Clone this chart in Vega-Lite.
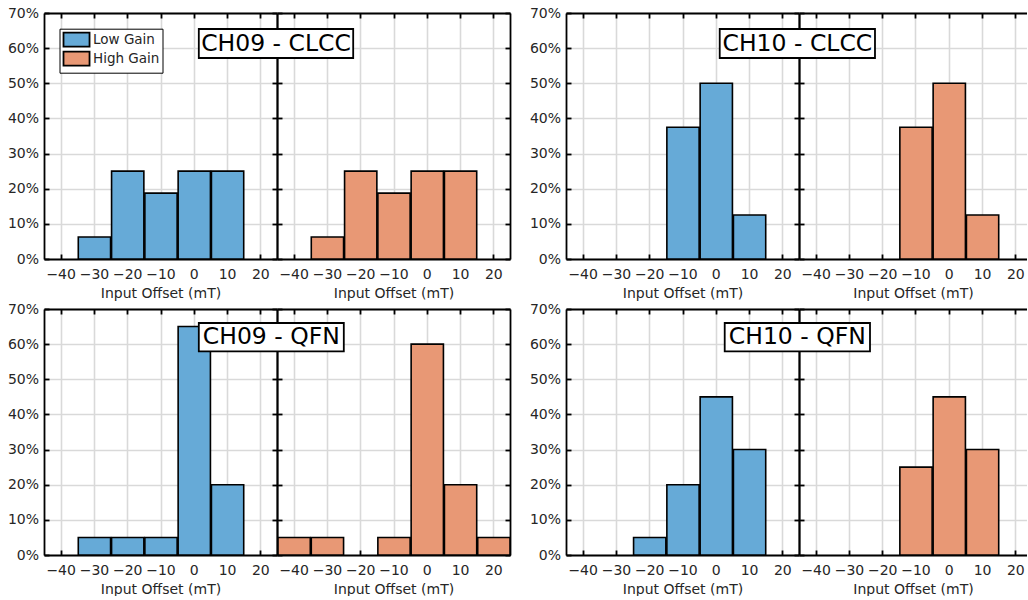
{
  "$schema": "https://vega.github.io/schema/vega-lite/v6.json",
  "background": "white",
  "padding": {"left": 7, "top": 6, "right": 0, "bottom": 0},
  "spacing": 2,
  "datasets": {
    "bins": [
      {"chip": "CH09 - CLCC", "gain": "Low Gain", "lo": -35, "hi": -25, "share": 0.0625},
      {"chip": "CH09 - CLCC", "gain": "Low Gain", "lo": -25, "hi": -15, "share": 0.25},
      {"chip": "CH09 - CLCC", "gain": "Low Gain", "lo": -15, "hi": -5, "share": 0.1875},
      {"chip": "CH09 - CLCC", "gain": "Low Gain", "lo": -5, "hi": 5, "share": 0.25},
      {"chip": "CH09 - CLCC", "gain": "Low Gain", "lo": 5, "hi": 15, "share": 0.25},
      {"chip": "CH09 - CLCC", "gain": "High Gain", "lo": -35, "hi": -25, "share": 0.0625},
      {"chip": "CH09 - CLCC", "gain": "High Gain", "lo": -25, "hi": -15, "share": 0.25},
      {"chip": "CH09 - CLCC", "gain": "High Gain", "lo": -15, "hi": -5, "share": 0.1875},
      {"chip": "CH09 - CLCC", "gain": "High Gain", "lo": -5, "hi": 5, "share": 0.25},
      {"chip": "CH09 - CLCC", "gain": "High Gain", "lo": 5, "hi": 15, "share": 0.25},
      {"chip": "CH10 - CLCC", "gain": "Low Gain", "lo": -15, "hi": -5, "share": 0.375},
      {"chip": "CH10 - CLCC", "gain": "Low Gain", "lo": -5, "hi": 5, "share": 0.5},
      {"chip": "CH10 - CLCC", "gain": "Low Gain", "lo": 5, "hi": 15, "share": 0.125},
      {"chip": "CH10 - CLCC", "gain": "High Gain", "lo": -15, "hi": -5, "share": 0.375},
      {"chip": "CH10 - CLCC", "gain": "High Gain", "lo": -5, "hi": 5, "share": 0.5},
      {"chip": "CH10 - CLCC", "gain": "High Gain", "lo": 5, "hi": 15, "share": 0.125},
      {"chip": "CH09 - QFN", "gain": "Low Gain", "lo": -35, "hi": -25, "share": 0.05},
      {"chip": "CH09 - QFN", "gain": "Low Gain", "lo": -25, "hi": -15, "share": 0.05},
      {"chip": "CH09 - QFN", "gain": "Low Gain", "lo": -15, "hi": -5, "share": 0.05},
      {"chip": "CH09 - QFN", "gain": "Low Gain", "lo": -5, "hi": 5, "share": 0.65},
      {"chip": "CH09 - QFN", "gain": "Low Gain", "lo": 5, "hi": 15, "share": 0.2},
      {"chip": "CH09 - QFN", "gain": "High Gain", "lo": -45, "hi": -35, "share": 0.05},
      {"chip": "CH09 - QFN", "gain": "High Gain", "lo": -35, "hi": -25, "share": 0.05},
      {"chip": "CH09 - QFN", "gain": "High Gain", "lo": -15, "hi": -5, "share": 0.05},
      {"chip": "CH09 - QFN", "gain": "High Gain", "lo": -5, "hi": 5, "share": 0.6},
      {"chip": "CH09 - QFN", "gain": "High Gain", "lo": 5, "hi": 15, "share": 0.2},
      {"chip": "CH09 - QFN", "gain": "High Gain", "lo": 15, "hi": 25, "share": 0.05},
      {"chip": "CH10 - QFN", "gain": "Low Gain", "lo": -25, "hi": -15, "share": 0.05},
      {"chip": "CH10 - QFN", "gain": "Low Gain", "lo": -15, "hi": -5, "share": 0.2},
      {"chip": "CH10 - QFN", "gain": "Low Gain", "lo": -5, "hi": 5, "share": 0.45},
      {"chip": "CH10 - QFN", "gain": "Low Gain", "lo": 5, "hi": 15, "share": 0.3},
      {"chip": "CH10 - QFN", "gain": "High Gain", "lo": -15, "hi": -5, "share": 0.25},
      {"chip": "CH10 - QFN", "gain": "High Gain", "lo": -5, "hi": 5, "share": 0.45},
      {"chip": "CH10 - QFN", "gain": "High Gain", "lo": 5, "hi": 15, "share": 0.3}
    ]
  },
  "vconcat": [
    {
      "hconcat": [
        {
          "hconcat": [
            {
              "width": 233, "height": 246,
              "data": {"name": "bins"},
              "transform": [{"filter": "datum.chip === 'CH09 - CLCC' && datum.gain === 'Low Gain'"}],
              "layer": [
                {"mark": {"type": "bar", "stroke": "black", "strokeWidth": 1.6},
                 "encoding": {
                   "x": {"field": "lo", "type": "quantitative", "bin": "binned", "scale": {"domain": [-45, 25], "nice": false, "zero": false}, "axis": {"orient": "bottom", "title": "Input Offset (mT)", "grid": true}},
                   "x2": {"field": "hi"},
                   "y": {"field": "share", "type": "quantitative", "scale": {"domain": [0, 0.7], "nice": false}, "axis": {"orient": "left", "title": null}},
                   "color": {"field": "gain", "type": "nominal", "scale": {"domain": ["Low Gain", "High Gain"], "range": ["#66AAD7", "#E89875"]},
                     "legend": {"orient": "none", "legendX": 15.5, "legendY": 15.7, "title": null, "symbolType": "M-1,-1H2.72V1H-1Z", "symbolSize": 196, "symbolStrokeColor": "black", "symbolStrokeWidth": 1.8, "symbolOpacity": 1, "labelFontSize": 13.5, "labelColor": "#262626", "labelOffset": 14.5, "strokeColor": "black", "fillColor": "white", "padding": 3, "rowPadding": -4.5}}
                 }},
                {"mark": {"type": "bar", "opacity": 0},
                 "encoding": {
                   "x": {"field": "lo", "type": "quantitative", "bin": "binned", "scale": {"domain": [-45, 25], "nice": false, "zero": false}, "axis": {"orient": "top", "labels": false, "grid": false, "title": null}},
                   "x2": {"field": "hi"},
                   "y": {"field": "share", "type": "quantitative", "scale": {"domain": [0, 0.7], "nice": false}, "axis": {"orient": "right", "labels": false, "grid": false, "title": null}}
                 }}
              ],
              "resolve": {"axis": {"x": "independent", "y": "independent"}}
            },
            {
              "width": 233, "height": 246,
              "layer": [
                {"data": {"name": "bins"},
                 "transform": [{"filter": "datum.chip === 'CH09 - CLCC' && datum.gain === 'High Gain'"}],
                 "mark": {"type": "bar", "stroke": "black", "strokeWidth": 1.6},
                 "encoding": {
                   "x": {"field": "lo", "type": "quantitative", "bin": "binned", "scale": {"domain": [-45, 25], "nice": false, "zero": false}, "axis": {"orient": "bottom", "title": "Input Offset (mT)", "grid": true}},
                   "x2": {"field": "hi"},
                   "y": {"field": "share", "type": "quantitative", "scale": {"domain": [0, 0.7], "nice": false}, "axis": {"orient": "left", "title": null, "labels": false}},
                   "color": {"field": "gain", "type": "nominal", "scale": {"domain": ["Low Gain", "High Gain"], "range": ["#66AAD7", "#E89875"]}}
                 }},
                {"data": {"name": "bins"},
                 "transform": [{"filter": "datum.chip === 'CH09 - CLCC' && datum.gain === 'High Gain'"}],
                 "mark": {"type": "bar", "opacity": 0},
                 "encoding": {
                   "x": {"field": "lo", "type": "quantitative", "bin": "binned", "scale": {"domain": [-45, 25], "nice": false, "zero": false}, "axis": {"orient": "top", "labels": false, "grid": false, "title": null}},
                   "x2": {"field": "hi"},
                   "y": {"field": "share", "type": "quantitative", "scale": {"domain": [0, 0.7], "nice": false}, "axis": {"orient": "right", "labels": false, "grid": false, "title": null}}
                 }},
                {"data": {"values": [{"label": "CH09 - CLCC"}]},
                 "layer": [
                   {"mark": {"type": "rect", "fill": "white", "stroke": "black", "strokeWidth": 1.8},
                    "encoding": {
                      "x": {"datum": -68.49, "type": "quantitative", "scale": {"domain": [-45, 25], "nice": false, "zero": false}, "axis": null},
                      "x2": {"datum": -22.11},
                      "y": {"datum": 0.6545, "type": "quantitative", "scale": {"domain": [0, 0.7], "nice": false}, "axis": null},
                      "y2": {"datum": 0.572}
                    }},
                   {"mark": {"type": "text", "fontSize": 23.5, "color": "black", "align": "center", "baseline": "middle"},
                    "encoding": {
                      "x": {"datum": -45.3, "type": "quantitative", "scale": {"domain": [-45, 25], "nice": false, "zero": false}, "axis": null},
                      "y": {"datum": 0.6132, "type": "quantitative", "scale": {"domain": [0, 0.7], "nice": false}, "axis": null},
                      "text": {"field": "label"}
                    }}
                 ]}
              ],
              "resolve": {"axis": {"x": "independent", "y": "independent"}}
            }
          ],
          "spacing": 0,
          "bounds": "flush"
        },
        {
          "hconcat": [
            {
              "width": 233, "height": 246,
              "data": {"name": "bins"},
              "transform": [{"filter": "datum.chip === 'CH10 - CLCC' && datum.gain === 'Low Gain'"}],
              "layer": [
                {"mark": {"type": "bar", "stroke": "black", "strokeWidth": 1.6},
                 "encoding": {
                   "x": {"field": "lo", "type": "quantitative", "bin": "binned", "scale": {"domain": [-45, 25], "nice": false, "zero": false}, "axis": {"orient": "bottom", "title": "Input Offset (mT)", "grid": true}},
                   "x2": {"field": "hi"},
                   "y": {"field": "share", "type": "quantitative", "scale": {"domain": [0, 0.7], "nice": false}, "axis": {"orient": "left", "title": null}},
                   "color": {"field": "gain", "type": "nominal", "scale": {"domain": ["Low Gain", "High Gain"], "range": ["#66AAD7", "#E89875"]}}
                 }},
                {"mark": {"type": "bar", "opacity": 0},
                 "encoding": {
                   "x": {"field": "lo", "type": "quantitative", "bin": "binned", "scale": {"domain": [-45, 25], "nice": false, "zero": false}, "axis": {"orient": "top", "labels": false, "grid": false, "title": null}},
                   "x2": {"field": "hi"},
                   "y": {"field": "share", "type": "quantitative", "scale": {"domain": [0, 0.7], "nice": false}, "axis": {"orient": "right", "labels": false, "grid": false, "title": null}}
                 }}
              ],
              "resolve": {"axis": {"x": "independent", "y": "independent"}}
            },
            {
              "width": 228, "height": 246,
              "layer": [
                {"data": {"name": "bins"},
                 "transform": [{"filter": "datum.chip === 'CH10 - CLCC' && datum.gain === 'High Gain'"}],
                 "mark": {"type": "bar", "stroke": "black", "strokeWidth": 1.6},
                 "encoding": {
                   "x": {"field": "lo", "type": "quantitative", "bin": "binned", "scale": {"domain": [-45, 23.5], "nice": false, "zero": false}, "axis": {"orient": "bottom", "title": "Input Offset (mT)", "grid": true}},
                   "x2": {"field": "hi"},
                   "y": {"field": "share", "type": "quantitative", "scale": {"domain": [0, 0.7], "nice": false}, "axis": {"orient": "left", "title": null, "labels": false}},
                   "color": {"field": "gain", "type": "nominal", "scale": {"domain": ["Low Gain", "High Gain"], "range": ["#66AAD7", "#E89875"]}}
                 }},
                {"data": {"name": "bins"},
                 "transform": [{"filter": "datum.chip === 'CH10 - CLCC' && datum.gain === 'High Gain'"}],
                 "mark": {"type": "bar", "opacity": 0},
                 "encoding": {
                   "x": {"field": "lo", "type": "quantitative", "bin": "binned", "scale": {"domain": [-45, 23.5], "nice": false, "zero": false}, "axis": {"orient": "top", "labels": false, "grid": false, "title": null}},
                   "x2": {"field": "hi"},
                   "y": {"field": "share", "type": "quantitative", "scale": {"domain": [0, 0.7], "nice": false}, "axis": null}
                 }},
                {"data": {"values": [{"label": "CH10 - CLCC"}]},
                 "layer": [
                   {"mark": {"type": "rect", "fill": "white", "stroke": "black", "strokeWidth": 1.8},
                    "encoding": {
                      "x": {"datum": -68.82, "type": "quantitative", "scale": {"domain": [-45, 23.5], "nice": false, "zero": false}, "axis": null},
                      "x2": {"datum": -22.17},
                      "y": {"datum": 0.6545, "type": "quantitative", "scale": {"domain": [0, 0.7], "nice": false}, "axis": null},
                      "y2": {"datum": 0.572}
                    }},
                   {"mark": {"type": "text", "fontSize": 23.5, "color": "black", "align": "center", "baseline": "middle"},
                    "encoding": {
                      "x": {"datum": -45.5, "type": "quantitative", "scale": {"domain": [-45, 23.5], "nice": false, "zero": false}, "axis": null},
                      "y": {"datum": 0.6132, "type": "quantitative", "scale": {"domain": [0, 0.7], "nice": false}, "axis": null},
                      "text": {"field": "label"}
                    }}
                 ]}
              ],
              "resolve": {"axis": {"x": "independent", "y": "independent"}}
            }
          ],
          "spacing": 0,
          "bounds": "flush"
        }
      ],
      "spacing": 18
    },
    {
      "hconcat": [
        {
          "hconcat": [
            {
              "width": 233, "height": 246,
              "data": {"name": "bins"},
              "transform": [{"filter": "datum.chip === 'CH09 - QFN' && datum.gain === 'Low Gain'"}],
              "layer": [
                {"mark": {"type": "bar", "stroke": "black", "strokeWidth": 1.6},
                 "encoding": {
                   "x": {"field": "lo", "type": "quantitative", "bin": "binned", "scale": {"domain": [-45, 25], "nice": false, "zero": false}, "axis": {"orient": "bottom", "title": "Input Offset (mT)", "grid": true}},
                   "x2": {"field": "hi"},
                   "y": {"field": "share", "type": "quantitative", "scale": {"domain": [0, 0.7], "nice": false}, "axis": {"orient": "left", "title": null}},
                   "color": {"field": "gain", "type": "nominal", "scale": {"domain": ["Low Gain", "High Gain"], "range": ["#66AAD7", "#E89875"]}}
                 }},
                {"mark": {"type": "bar", "opacity": 0},
                 "encoding": {
                   "x": {"field": "lo", "type": "quantitative", "bin": "binned", "scale": {"domain": [-45, 25], "nice": false, "zero": false}, "axis": {"orient": "top", "labels": false, "grid": false, "title": null}},
                   "x2": {"field": "hi"},
                   "y": {"field": "share", "type": "quantitative", "scale": {"domain": [0, 0.7], "nice": false}, "axis": {"orient": "right", "labels": false, "grid": false, "title": null}}
                 }}
              ],
              "resolve": {"axis": {"x": "independent", "y": "independent"}}
            },
            {
              "width": 233, "height": 246,
              "layer": [
                {"data": {"name": "bins"},
                 "transform": [{"filter": "datum.chip === 'CH09 - QFN' && datum.gain === 'High Gain'"}],
                 "mark": {"type": "bar", "stroke": "black", "strokeWidth": 1.6},
                 "encoding": {
                   "x": {"field": "lo", "type": "quantitative", "bin": "binned", "scale": {"domain": [-45, 25], "nice": false, "zero": false}, "axis": {"orient": "bottom", "title": "Input Offset (mT)", "grid": true}},
                   "x2": {"field": "hi"},
                   "y": {"field": "share", "type": "quantitative", "scale": {"domain": [0, 0.7], "nice": false}, "axis": {"orient": "left", "title": null, "labels": false}},
                   "color": {"field": "gain", "type": "nominal", "scale": {"domain": ["Low Gain", "High Gain"], "range": ["#66AAD7", "#E89875"]}}
                 }},
                {"data": {"name": "bins"},
                 "transform": [{"filter": "datum.chip === 'CH09 - QFN' && datum.gain === 'High Gain'"}],
                 "mark": {"type": "bar", "opacity": 0},
                 "encoding": {
                   "x": {"field": "lo", "type": "quantitative", "bin": "binned", "scale": {"domain": [-45, 25], "nice": false, "zero": false}, "axis": {"orient": "top", "labels": false, "grid": false, "title": null}},
                   "x2": {"field": "hi"},
                   "y": {"field": "share", "type": "quantitative", "scale": {"domain": [0, 0.7], "nice": false}, "axis": {"orient": "right", "labels": false, "grid": false, "title": null}}
                 }},
                {"data": {"values": [{"label": "CH09 - QFN"}]},
                 "layer": [
                   {"mark": {"type": "rect", "fill": "white", "stroke": "black", "strokeWidth": 1.8},
                    "encoding": {
                      "x": {"datum": -68.49, "type": "quantitative", "scale": {"domain": [-45, 25], "nice": false, "zero": false}, "axis": null},
                      "x2": {"datum": -24.93},
                      "y": {"datum": 0.6602, "type": "quantitative", "scale": {"domain": [0, 0.7], "nice": false}, "axis": null},
                      "y2": {"datum": 0.5794}
                    }},
                   {"mark": {"type": "text", "fontSize": 23.5, "color": "black", "align": "center", "baseline": "middle"},
                    "encoding": {
                      "x": {"datum": -46.71, "type": "quantitative", "scale": {"domain": [-45, 25], "nice": false, "zero": false}, "axis": null},
                      "y": {"datum": 0.6198, "type": "quantitative", "scale": {"domain": [0, 0.7], "nice": false}, "axis": null},
                      "text": {"field": "label"}
                    }}
                 ]}
              ],
              "resolve": {"axis": {"x": "independent", "y": "independent"}}
            }
          ],
          "spacing": 0,
          "bounds": "flush"
        },
        {
          "hconcat": [
            {
              "width": 233, "height": 246,
              "data": {"name": "bins"},
              "transform": [{"filter": "datum.chip === 'CH10 - QFN' && datum.gain === 'Low Gain'"}],
              "layer": [
                {"mark": {"type": "bar", "stroke": "black", "strokeWidth": 1.6},
                 "encoding": {
                   "x": {"field": "lo", "type": "quantitative", "bin": "binned", "scale": {"domain": [-45, 25], "nice": false, "zero": false}, "axis": {"orient": "bottom", "title": "Input Offset (mT)", "grid": true}},
                   "x2": {"field": "hi"},
                   "y": {"field": "share", "type": "quantitative", "scale": {"domain": [0, 0.7], "nice": false}, "axis": {"orient": "left", "title": null}},
                   "color": {"field": "gain", "type": "nominal", "scale": {"domain": ["Low Gain", "High Gain"], "range": ["#66AAD7", "#E89875"]}}
                 }},
                {"mark": {"type": "bar", "opacity": 0},
                 "encoding": {
                   "x": {"field": "lo", "type": "quantitative", "bin": "binned", "scale": {"domain": [-45, 25], "nice": false, "zero": false}, "axis": {"orient": "top", "labels": false, "grid": false, "title": null}},
                   "x2": {"field": "hi"},
                   "y": {"field": "share", "type": "quantitative", "scale": {"domain": [0, 0.7], "nice": false}, "axis": {"orient": "right", "labels": false, "grid": false, "title": null}}
                 }}
              ],
              "resolve": {"axis": {"x": "independent", "y": "independent"}}
            },
            {
              "width": 228, "height": 246,
              "layer": [
                {"data": {"name": "bins"},
                 "transform": [{"filter": "datum.chip === 'CH10 - QFN' && datum.gain === 'High Gain'"}],
                 "mark": {"type": "bar", "stroke": "black", "strokeWidth": 1.6},
                 "encoding": {
                   "x": {"field": "lo", "type": "quantitative", "bin": "binned", "scale": {"domain": [-45, 23.5], "nice": false, "zero": false}, "axis": {"orient": "bottom", "title": "Input Offset (mT)", "grid": true}},
                   "x2": {"field": "hi"},
                   "y": {"field": "share", "type": "quantitative", "scale": {"domain": [0, 0.7], "nice": false}, "axis": {"orient": "left", "title": null, "labels": false}},
                   "color": {"field": "gain", "type": "nominal", "scale": {"domain": ["Low Gain", "High Gain"], "range": ["#66AAD7", "#E89875"]}}
                 }},
                {"data": {"name": "bins"},
                 "transform": [{"filter": "datum.chip === 'CH10 - QFN' && datum.gain === 'High Gain'"}],
                 "mark": {"type": "bar", "opacity": 0},
                 "encoding": {
                   "x": {"field": "lo", "type": "quantitative", "bin": "binned", "scale": {"domain": [-45, 23.5], "nice": false, "zero": false}, "axis": {"orient": "top", "labels": false, "grid": false, "title": null}},
                   "x2": {"field": "hi"},
                   "y": {"field": "share", "type": "quantitative", "scale": {"domain": [0, 0.7], "nice": false}, "axis": null}
                 }},
                {"data": {"values": [{"label": "CH10 - QFN"}]},
                 "layer": [
                   {"mark": {"type": "rect", "fill": "white", "stroke": "black", "strokeWidth": 1.8},
                    "encoding": {
                      "x": {"datum": -67.32, "type": "quantitative", "scale": {"domain": [-45, 23.5], "nice": false, "zero": false}, "axis": null},
                      "x2": {"datum": -23.67},
                      "y": {"datum": 0.6602, "type": "quantitative", "scale": {"domain": [0, 0.7], "nice": false}, "axis": null},
                      "y2": {"datum": 0.5794}
                    }},
                   {"mark": {"type": "text", "fontSize": 23.5, "color": "black", "align": "center", "baseline": "middle"},
                    "encoding": {
                      "x": {"datum": -45.5, "type": "quantitative", "scale": {"domain": [-45, 23.5], "nice": false, "zero": false}, "axis": null},
                      "y": {"datum": 0.6198, "type": "quantitative", "scale": {"domain": [0, 0.7], "nice": false}, "axis": null},
                      "text": {"field": "label"}
                    }}
                 ]}
              ],
              "resolve": {"axis": {"x": "independent", "y": "independent"}}
            }
          ],
          "spacing": 0,
          "bounds": "flush"
        }
      ],
      "spacing": 18
    }
  ],
  "config": {
    "font": "DejaVu Sans",
    "view": {"stroke": null},
    "axis": {
      "labelFont": "DejaVu Sans", "labelFontSize": 14, "labelColor": "#262626",
      "titleFont": "DejaVu Sans", "titleFontSize": 14, "titleFontWeight": "normal", "titleColor": "#262626",
      "domainColor": "black", "domainWidth": 1.8,
      "tickColor": "black", "tickWidth": 1.8, "tickSize": -5,
      "gridColor": "#d9d9d9", "gridWidth": 1.6,
      "labelFlush": false, "labelOverlap": false
    },
    "axisX": {"values": [-40, -30, -20, -10, 0, 10, 20], "labelPadding": 13, "titlePadding": 5},
    "axisY": {"values": [0, 0.1, 0.2, 0.3, 0.4, 0.5, 0.6, 0.7], "format": ".0%", "labelPadding": 10.5},
    "legend": {"labelFont": "DejaVu Sans"}
  }
}
